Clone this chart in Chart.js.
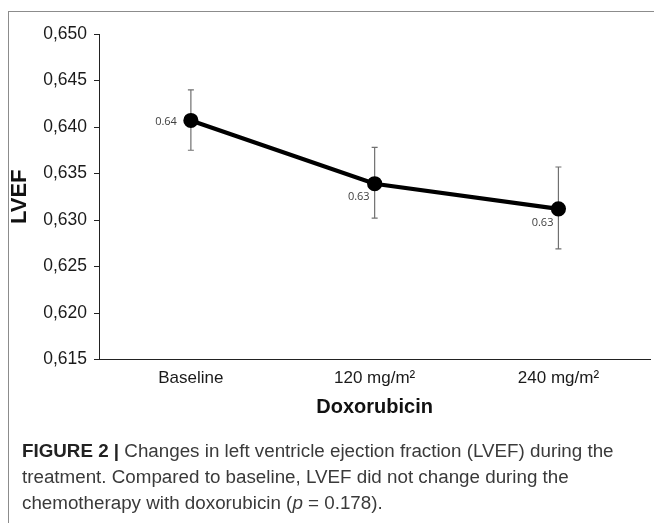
<!DOCTYPE html>
<html>
<head>
<meta charset="utf-8">
<script src="https://cdn.jsdelivr.net/npm/chart.js@4.4.1/dist/chart.umd.min.js"></script>
<style>
  html, body { margin:0; padding:0; background:#fff; width:654px; height:523px; overflow:hidden; }
  #frame { position:absolute; left:8px; top:11px; width:700px; height:600px; border:1px solid #8c8c8c; box-sizing:border-box; }
  #wrap { position:absolute; left:0; top:0; width:660px; height:440px; }
  #caption { position:absolute; left:22px; top:438px; font-family:"Liberation Sans", Arial, sans-serif; font-size:18.8px; line-height:26px; color:#3a3a3a; white-space:nowrap; }
  #caption b { color:#222; }
</style>
</head>
<body>
<div id="frame"></div>
<div id="wrap"><canvas id="c" width="660" height="440"></canvas></div>
<div id="caption"><b>FIGURE 2 |</b> Changes in left ventricle ejection fraction (LVEF) during the<br>treatment. Compared to baseline, LVEF did not change during the<br>chemotherapy with doxorubicin (<i>p</i> = 0.178).</div>
<script>
const categories = ['Baseline', '120 mg/m\u00B2', '240 mg/m\u00B2'];
const lvef = [0.6407, 0.6339, 0.6312];
const errUpper = [0.6440, 0.6378, 0.6357];
const errLower = [0.6375, 0.6302, 0.6269];
const pointLabels = ['0.64', '0.63', '0.63'];
const yTicks = [0.615, 0.620, 0.625, 0.630, 0.635, 0.640, 0.645, 0.650];

const errorBars = {
  id: 'errorBars',
  beforeDatasetsDraw(chart) {
    const {ctx, scales: {x, y}} = chart;
    ctx.save();
    ctx.strokeStyle = '#707070';
    ctx.lineWidth = 1.2;
    categories.forEach((c, i) => {
      const px = x.getPixelForValue(i);
      const top = y.getPixelForValue(errUpper[i]);
      const bot = y.getPixelForValue(errLower[i]);
      ctx.beginPath();
      ctx.moveTo(px, top); ctx.lineTo(px, bot);
      ctx.moveTo(px - 3, top); ctx.lineTo(px + 3, top);
      ctx.moveTo(px - 3, bot); ctx.lineTo(px + 3, bot);
      ctx.stroke();
    });
    ctx.restore();
  }
};

const valueLabels = {
  id: 'valueLabels',
  afterDatasetsDraw(chart) {
    const {ctx} = chart;
    const meta = chart.getDatasetMeta(0);
    const offsets = [[-14, 1], [-5, 13], [-5, 14]];
    ctx.save();
    ctx.font = '11px "Open Sans", "Noto Sans", sans-serif';
    ctx.fillStyle = '#404040';
    ctx.textAlign = 'right';
    ctx.textBaseline = 'middle';
    meta.data.forEach((pt, i) => {
      ctx.fillText(pointLabels[i], pt.x + offsets[i][0], pt.y + offsets[i][1]);
    });
    ctx.restore();
  }
};

const FONT = '"Liberation Sans", Arial, sans-serif';

new Chart(document.getElementById('c'), {
  type: 'line',
  data: {
    labels: categories,
    datasets: [{
      data: lvef,
      borderColor: '#000',
      borderWidth: 4.2,
      pointRadius: 5.5,
      pointBackgroundColor: '#000',
      pointBorderColor: '#000',
      tension: 0
    }]
  },
  options: {
    responsive: false,
    animation: false,
    events: [],
    layout: { padding: { left: 7, top: 34, right: 3, bottom: 21 } },
    plugins: { legend: { display: false }, tooltip: { enabled: false } },
    scales: {
      x: {
        offset: true,
        grid: { display: false, drawTicks: false },
        border: { display: true, color: '#222', width: 1 },
        ticks: { padding: 9, color: '#1a1a1a', font: { family: FONT, size: 17 } },
        title: { display: true, text: 'Doxorubicin', color: '#111', padding: 0, font: { family: FONT, size: 20, weight: 'bold' } },
        afterFit(s) { s.height = 59.5; }
      },
      y: {
        min: 0.615,
        max: 0.650,
        afterBuildTicks(s) { s.ticks = yTicks.map(v => ({ value: v })); },
        grid: { drawOnChartArea: false, drawTicks: true, tickLength: 5, color: '#222' },
        border: { display: true, color: '#222', width: 1 },
        ticks: {
          padding: 7,
          color: '#1a1a1a',
          font: { family: FONT, size: 17.5 },
          callback: v => Number(v).toFixed(3).replace('.', ',')
        },
        title: { display: true, text: 'LVEF', color: '#111', padding: 0, font: { family: FONT, size: 22, weight: 'bold' } },
        afterFit(s) { s.width = 92; }
      }
    }
  },
  plugins: [errorBars, valueLabels]
});
</script>
</body>
</html>
